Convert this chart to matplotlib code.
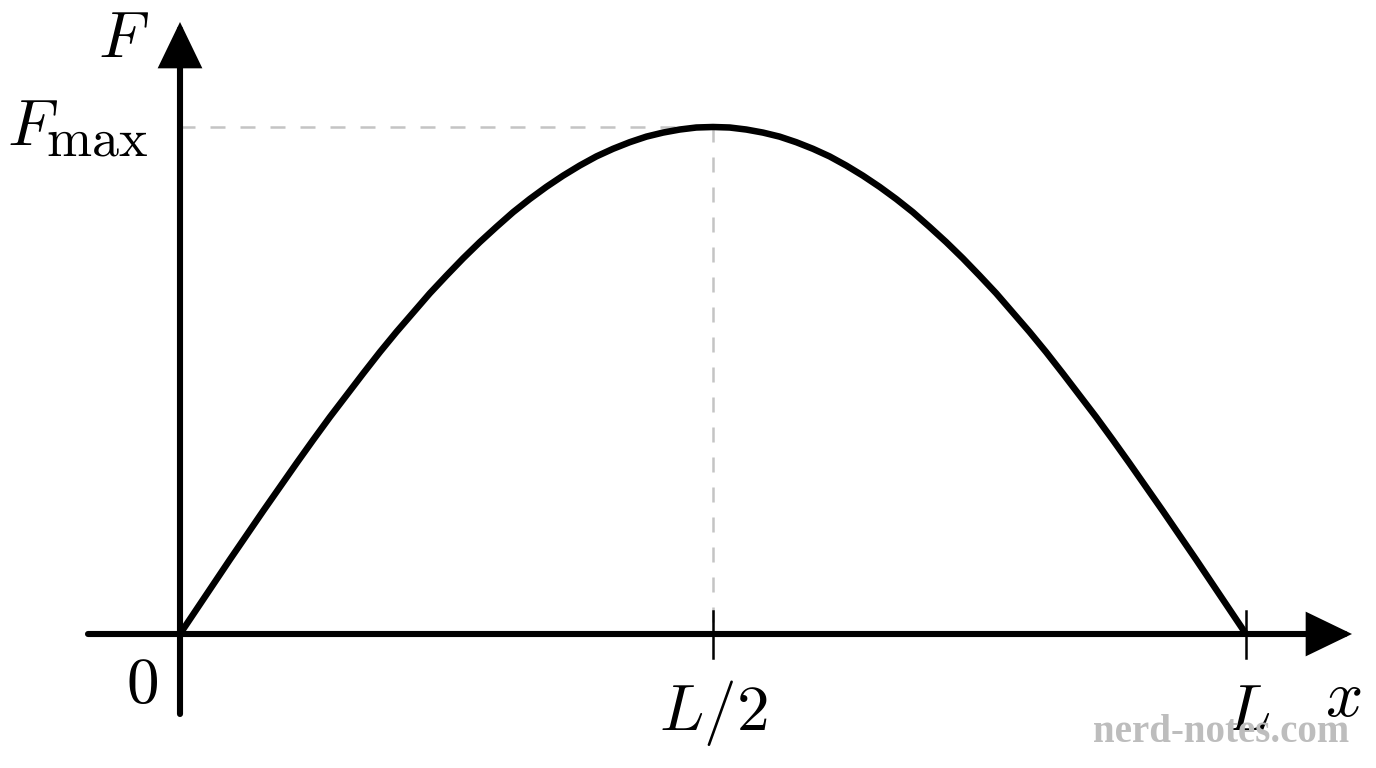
import matplotlib
matplotlib.use("Agg")
import matplotlib.pyplot as plt

plt.rcParams['mathtext.fontset'] = 'cm'

# Curve: F/Fmax at x/L = 0, 1/64, ..., 1
x_over_L = [i / 64 for i in range(65)]
half = [0.0, 0.049, 0.098, 0.147, 0.195, 0.243, 0.290, 0.337, 0.383,
        0.428, 0.471, 0.514, 0.556, 0.596, 0.634, 0.672, 0.707, 0.741,
        0.773, 0.803, 0.832, 0.858, 0.882, 0.904, 0.924, 0.942, 0.957,
        0.970, 0.981, 0.989, 0.995, 0.999, 1.0]
F_over_Fmax = half + half[-2::-1]

tick_positions = [0.5, 1.0]
tick_labels = [r'$L/2$', r'$L$']
fmax_value = 1.0
peak_x = 0.5

PX = 1 / 1066   # data units per pixel, x
PY = 1 / 507    # data units per pixel, y

fig = plt.figure(figsize=(13.76, 7.68), dpi=100)
ax = fig.add_axes([0, 0, 1, 1])
ax.set_xlim(-180 * PX, (1376 - 180) * PX)
ax.set_ylim(-(768 - 634) * PY, 634 * PY)
ax.axis('off')

# dashed guides
ax.plot([0, peak_x], [fmax_value, fmax_value], color='#c4c4c4', lw=1.8,
        dashes=(6, 6), zorder=1)
ax.plot([peak_x, peak_x], [fmax_value, 0], color='#c4c4c4', lw=1.8,
        dashes=(6, 6), zorder=1)

# axes with arrows
arrow = dict(arrowstyle='-|>,head_length=0.58,head_width=0.28', lw=4.4,
             color='black', mutation_scale=45, shrinkA=0, shrinkB=0,
             joinstyle='miter')
ax.annotate('', xy=(1172 * PX, 0), xytext=(-92 * PX, 0), arrowprops=arrow,
            zorder=3)
ax.annotate('', xy=(0, 612 * PY), xytext=(0, -80 * PY), arrowprops=arrow,
            zorder=3)

# curve
ax.plot(x_over_L, F_over_Fmax, color='black', lw=4.7, zorder=4,
        solid_capstyle='butt')

# ticks
for t in tick_positions:
    ax.plot([t, t], [23 * PY, -24 * PY], color='black', lw=1.8, zorder=5)

fs = 47
ax.text(tick_positions[0], -96 * PY, tick_labels[0], ha='center',
        va='baseline', fontsize=fs)
ax.text(tick_positions[1] + 2 * PX, -96 * PY, tick_labels[1], ha='center',
        va='baseline', fontsize=fs)
ax.text(-38 * PX, -69 * PY, r'$0$', ha='center', va='baseline', fontsize=fs)
ax.text(1163 * PX, -82 * PY, r'$x$', ha='center', va='baseline', fontsize=fs)
ax.text(-56 * PX, 577 * PY, r'$F$', ha='center', va='baseline', fontsize=fs)
# F_max: big F with a fairly large roman subscript
ax.text(-173 * PX, 489 * PY, r'$F$', ha='left', va='baseline', fontsize=fs)
ax.text(-32 * PX, 479 * PY, r'$\mathrm{max}$', ha='right', va='baseline',
        fontsize=39)

# watermark
ax.text((1221 - 180) * PX, -108 * PY, 'nerd-notes.com', ha='center',
        va='baseline', fontsize=28, fontweight='bold',
        family='Liberation Serif', color='#bdbdbd', zorder=6)

fig.savefig('out.png', dpi=100)
